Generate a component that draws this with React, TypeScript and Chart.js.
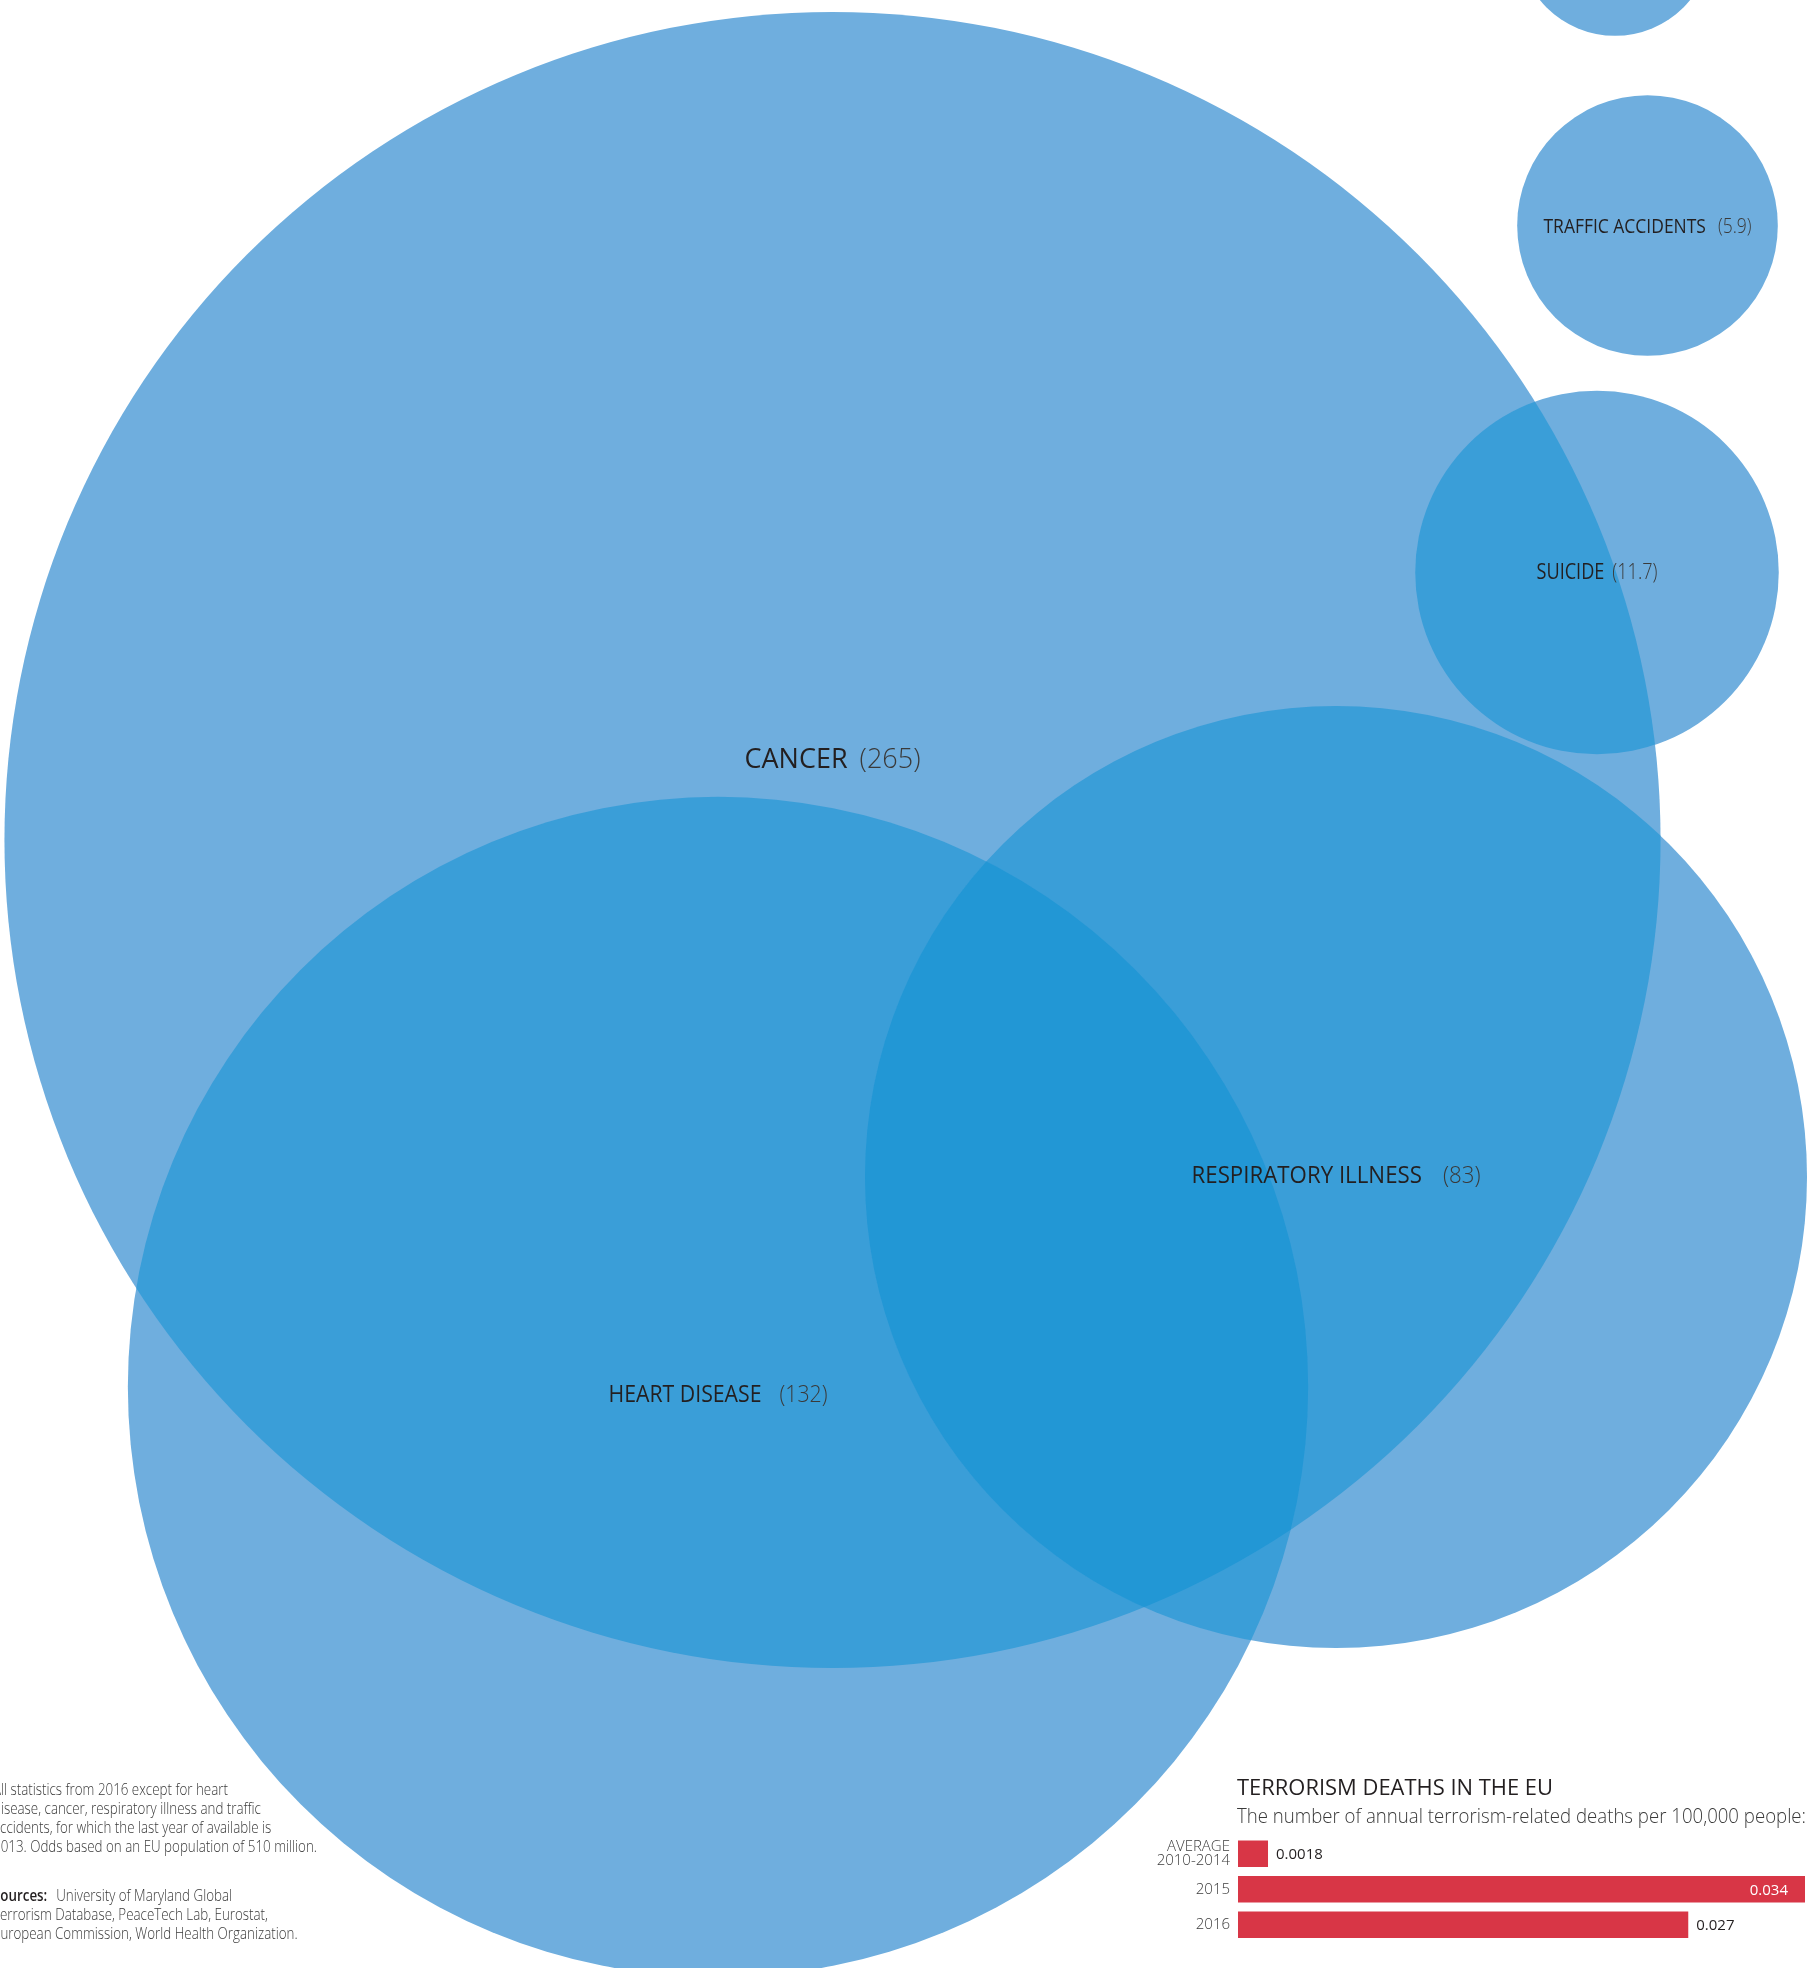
import React, { useEffect, useRef } from 'react';
import { Chart, registerables } from 'chart.js';

Chart.register(...registerables);

// ---------------- DATA ----------------
// Causes of death in the EU (annual deaths per 100,000 people); circle area encodes the rate.
const causes = ['CANCER', 'HEART DISEASE', 'RESPIRATORY ILLNESS', 'SUICIDE', 'TRAFFIC ACCIDENTS', ''];
const rates = [265, 132, 83, 11.7, 5.9, 3.2]; // last circle is cut off at the top edge (label not visible)
// bubble centres on the page grid (x: 0..1811, y: 0..1968 top-down)
const centerX = [832.5, 718, 1336, 1597, 1647.5, 1615];
const centerY = [840, 1387, 1177, 572.5, 225.5, -61];

// Inset bar chart
const barCategories: (string | string[])[] = [['AVERAGE', '2010-2014'], '2015', '2016'];
const barValues = [0.0018, 0.034, 0.027];
const barTitle = 'TERRORISM DEATHS IN THE EU';
const barSubtitle = 'The number of annual terrorism-related deaths per 100,000 people:';

// Notes
const noteLines = [
  'All statistics from 2016 except for heart',
  'disease, cancer, respiratory illness and traffic',
  'accidents, for which the last year of available is',
  '2013. Odds based on an EU population of 510 million.',
];
const sourceLabel = 'Sources:';
const sourceLines = [
  'University of Maryland Global',
  'Terrorism Database, PeaceTech Lab, Eurostat,',
  'European Commission, World Health Organization.',
];

// ---------------- LAYOUT / STYLE ----------------
const W = 1811;
const H = 1968;
const FONT = "'Open Sans', 'Noto Sans', sans-serif";
const RADIUS_K = 55;
const RADIUS_EXP = 0.486;
const radiusFor = (v: number) => RADIUS_K * Math.pow(v, RADIUS_EXP);

const labelFontSize = [28, 23, 23, 22, 20, 20];
const labelGap = [12, 18, 21, 8, 12, 8];
const labelDy = [-82, 6.5, -2, -1.5, 0.5, 0];
const labelWidth = [176, 219, 289, 121, 208, 100];

const FILL_1 = '#6FAEDE';
const FILL_2 = '#3A9ED8';
const FILL_3 = '#2297D5';
const BAR_RED = '#D83646';
const INK = '#231F20';
const INK_LIGHT = '#3A3A3A';

const BAR_LEFT = 1130;
const BAR_TOP = 1770;
const BAR_W = 681;
const BAR_H = 198;

function drawCircleLabel(
  ctx: CanvasRenderingContext2D,
  cx: number,
  cy: number,
  name: string,
  value: string,
  size: number,
  gap: number,
  target: number
) {
  const nameFont = `500 ${size}px ${FONT}`;
  const valFont = `300 ${size}px ${FONT}`;
  ctx.font = nameFont;
  const wn = ctx.measureText(name).width;
  ctx.font = valFont;
  const wv = ctx.measureText(value).width;
  const natural = wn + wv;
  const f = Math.min(1, (target - gap) / natural);
  const total = natural * f + gap;
  const x0 = cx - total / 2;
  const base = cy + size * 0.357;
  ctx.textAlign = 'left';
  ctx.textBaseline = 'alphabetic';
  ctx.save();
  ctx.translate(x0, base);
  ctx.scale(f, 1);
  ctx.font = nameFont;
  ctx.fillStyle = INK;
  ctx.fillText(name, 0, 0);
  ctx.restore();
  ctx.save();
  ctx.translate(x0 + wn * f + gap, base);
  ctx.scale(f, 1);
  ctx.font = valFont;
  ctx.fillStyle = INK_LIGHT;
  ctx.fillText(value, 0, 0);
  ctx.restore();
}

const overlapPlugin = {
  id: 'overlapShading',
  afterDatasetsDraw(chart: any) {
    const ctx: CanvasRenderingContext2D = chart.ctx;
    const els = chart.getDatasetMeta(0).data.map((e: any) => ({ x: e.x, y: e.y, r: e.options.radius }));
    const circle = (c: any) => {
      ctx.beginPath();
      ctx.arc(c.x, c.y, c.r, 0, Math.PI * 2);
    };
    const hits = (a: any, b: any) => Math.hypot(a.x - b.x, a.y - b.y) < a.r + b.r;
    const n = els.length;
    for (let i = 0; i < n; i++) {
      for (let j = i + 1; j < n; j++) {
        if (!hits(els[i], els[j])) continue;
        ctx.save();
        circle(els[i]);
        ctx.clip();
        circle(els[j]);
        ctx.fillStyle = FILL_2;
        ctx.fill();
        ctx.restore();
      }
    }
    for (let i = 0; i < n; i++) {
      for (let j = i + 1; j < n; j++) {
        for (let k = j + 1; k < n; k++) {
          if (!hits(els[i], els[j]) || !hits(els[i], els[k]) || !hits(els[j], els[k])) continue;
          ctx.save();
          circle(els[i]);
          ctx.clip();
          circle(els[j]);
          ctx.clip();
          circle(els[k]);
          ctx.fillStyle = FILL_3;
          ctx.fill();
          ctx.restore();
        }
      }
    }
  },
  afterDraw(chart: any) {
    const ctx: CanvasRenderingContext2D = chart.ctx;
    const meta = chart.getDatasetMeta(0);
    ctx.save();
    meta.data.forEach((el: any, i: number) => {
      if (!causes[i]) return;
      drawCircleLabel(
        ctx,
        el.x,
        el.y + labelDy[i],
        causes[i],
        `(${rates[i]})`,
        labelFontSize[i],
        labelGap[i],
        labelWidth[i]
      );
    });

    // notes (bottom-left), slightly condensed face
    const x0 = -7;
    const noteFont = `300 15.5px ${FONT}`;
    ctx.font = noteFont;
    const f = 324 / ctx.measureText(noteLines[3]).width;
    ctx.fillStyle = INK_LIGHT;
    ctx.textAlign = 'left';
    ctx.textBaseline = 'alphabetic';
    const noteBase = [1795, 1814, 1833, 1852];
    noteLines.forEach((t, i) => {
      ctx.save();
      ctx.translate(x0, noteBase[i]);
      ctx.scale(f, 1);
      ctx.fillText(t, 0, 0);
      ctx.restore();
    });
    const srcBase = [1901, 1920, 1939];
    ctx.font = `600 15.5px ${FONT}`;
    const wb = ctx.measureText(sourceLabel).width * f;
    ctx.save();
    ctx.translate(x0, srcBase[0]);
    ctx.scale(f, 1);
    ctx.fillStyle = INK;
    ctx.fillText(sourceLabel, 0, 0);
    ctx.restore();
    ctx.font = noteFont;
    ctx.fillStyle = INK_LIGHT;
    sourceLines.forEach((t, i) => {
      const sx = i === 0 ? x0 + wb + 9 : x0;
      ctx.save();
      ctx.translate(sx, srcBase[i]);
      ctx.scale(f, 1);
      ctx.fillText(t, 0, 0);
      ctx.restore();
    });
    ctx.restore();
  },
};

const barDecorPlugin = {
  id: 'barDecor',
  afterDraw(chart: any) {
    const ctx: CanvasRenderingContext2D = chart.ctx;
    const area = chart.chartArea;
    ctx.save();
    ctx.textAlign = 'left';
    ctx.textBaseline = 'alphabetic';
    ctx.fillStyle = INK;
    ctx.font = `400 22px ${FONT}`;
    ctx.fillText(barTitle, area.left - 1, 25, 316);
    ctx.fillStyle = INK_LIGHT;
    ctx.font = `300 21px ${FONT}`;
    ctx.fillText(barSubtitle, area.left - 1, 53, 569);

    const meta = chart.getDatasetMeta(0);
    const maxV = Math.max(...barValues);
    ctx.font = `500 15px ${FONT}`;
    ctx.textBaseline = 'middle';
    meta.data.forEach((el: any, i: number) => {
      const v = barValues[i];
      const txt = String(v);
      if (v === maxV) {
        ctx.fillStyle = '#FFFFFF';
        ctx.textAlign = 'right';
        ctx.fillText(txt, el.x - 17, el.y + 1);
      } else {
        ctx.fillStyle = INK;
        ctx.textAlign = 'left';
        ctx.fillText(txt, el.x + 8, el.y + 1);
      }
    });
    ctx.restore();
  },
};

export default function App() {
  const mainRef = useRef<HTMLCanvasElement>(null);
  const barRef = useRef<HTMLCanvasElement>(null);

  useEffect(() => {
    const bubbleData = rates.map((v, i) => ({ x: centerX[i], y: centerY[i], r: radiusFor(v) }));
    const main = new Chart(mainRef.current as HTMLCanvasElement, {
      type: 'bubble',
      data: {
        datasets: [
          {
            data: bubbleData,
            backgroundColor: FILL_1,
            borderWidth: 0,
            hoverRadius: 0,
            hoverBorderWidth: 0,
          } as any,
        ],
      },
      options: {
        responsive: false,
        animation: false,
        events: [],
        layout: { padding: 0, autoPadding: false } as any,
        plugins: { legend: { display: false }, tooltip: { enabled: false }, title: { display: false } },
        scales: {
          x: { type: 'linear', min: 0, max: W, display: false },
          y: { type: 'linear', min: 0, max: H, reverse: true, display: false },
        },
      },
      plugins: [overlapPlugin],
    });

    const bar = new Chart(barRef.current as HTMLCanvasElement, {
      type: 'bar',
      data: {
        labels: barCategories as any,
        datasets: [
          {
            data: barValues,
            backgroundColor: BAR_RED,
            borderWidth: 0,
            categoryPercentage: 0.75,
            barPercentage: 1,
          },
        ],
      },
      options: {
        indexAxis: 'y',
        responsive: false,
        animation: false,
        events: [],
        layout: { padding: { top: 66, bottom: 25.5, left: 0, right: 6 }, autoPadding: false } as any,
        plugins: { legend: { display: false }, tooltip: { enabled: false } },
        scales: {
          x: { type: 'linear', min: 0, max: 0.034, display: false },
          y: {
            grid: { display: false, drawTicks: false },
            border: { display: false },
            ticks: {
              padding: 8,
              color: '#3C3C3C',
              font: { family: FONT, size: 15, weight: '300', lineHeight: 0.95 } as any,
            },
            afterFit: (scale: any) => {
              scale.width = 108;
            },
          },
        },
      },
      plugins: [barDecorPlugin],
    });

    return () => {
      main.destroy();
      bar.destroy();
    };
  }, []);

  return (
    <div
      style={{
        position: 'absolute',
        left: 0,
        top: 0,
        width: W,
        height: H,
        overflow: 'hidden',
        background: '#ffffff',
      }}
    >
      <canvas
        ref={mainRef}
        width={W}
        height={H}
        style={{ position: 'absolute', left: 0, top: 0, width: W, height: H }}
      />
      <canvas
        ref={barRef}
        width={BAR_W}
        height={BAR_H}
        style={{ position: 'absolute', left: BAR_LEFT, top: BAR_TOP, width: BAR_W, height: BAR_H }}
      />
    </div>
  );
}
